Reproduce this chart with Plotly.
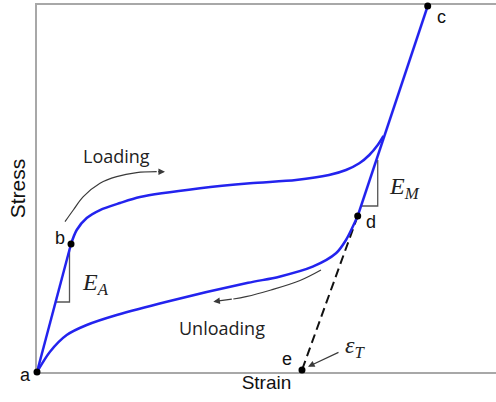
import plotly.graph_objects as go

# ---- data (normalized strain / stress units) ----
point_labels = ["a", "b", "c", "d", "e"]
point_strain = [0.0, 0.0741, 0.8512, 0.6987, 0.5773]
point_stress = [0.0, 0.3488, 0.9973, 0.4251, 0.0054]

# elastic austenite segment a -> b
elastic_a_strain = [0.0, 0.0741]
elastic_a_stress = [0.0, 0.3488]

# elastic martensite segment c -> d
elastic_m_strain = [0.8512, 0.6987]
elastic_m_stress = [0.9973, 0.4251]

# loading plateau b -> join with martensite line
load_strain = [0.0741, 0.0865, 0.1083, 0.1373, 0.1808, 0.2244, 0.3551, 0.4641,
               0.5643, 0.6362, 0.6732, 0.7022, 0.7240, 0.7423, 0.7549]
load_stress = [0.3488, 0.3869, 0.4196, 0.4414, 0.4605, 0.4768, 0.5005, 0.5142,
               0.5232, 0.5368, 0.5504, 0.5687, 0.5913, 0.6185, 0.6431]

# unloading curve d -> a
unload_strain = [0.6987, 0.6732, 0.6514, 0.6006, 0.5279, 0.4600, 0.2826, 0.1736,
                 0.1083, 0.0647, 0.0283, 0.0]
unload_stress = [0.4251, 0.3597, 0.3234, 0.2869, 0.2597, 0.2430, 0.1916, 0.1553,
                 0.1281, 0.1008, 0.0553, 0.0]

# transformation strain (dashed) d -> e
dash_strain = [0.6987, 0.5773]
dash_stress = [0.4251, 0.0054]

# slope triangles
tri_a_strain = [0.0414, 0.0708, 0.0708]
tri_a_stress = [0.1907, 0.1907, 0.3311]
tri_m_strain = [0.7059, 0.7423, 0.7423]
tri_m_stress = [0.4523, 0.4523, 0.5777]

# curved direction arrows
loading_arrow_strain = [0.0610, 0.0791, 0.1009, 0.1373, 0.1736, 0.2172, 0.2608]
loading_arrow_stress = [0.4095, 0.4414, 0.4777, 0.5142, 0.5322, 0.5431, 0.5458]
loading_tip = (0.2789, 0.5458)

unloading_arrow_strain = [0.6187, 0.5730, 0.5098, 0.4553, 0.4277]
unloading_arrow_stress = [0.2779, 0.2493, 0.2234, 0.2052, 0.1989]
unloading_tip = (0.3841, 0.1916)

BLUE = "#2323ee"
GRAY = "#3a3a3a"
SANS = "Liberation Sans, Arial, sans-serif"
SERIF = "Liberation Serif, Times New Roman, serif"

fig = go.Figure()

def line(xs, ys, color, width, dash="solid", shape="linear", smoothing=1.0):
    fig.add_trace(go.Scatter(x=xs, y=ys, mode="lines",
                             line=dict(color=color, width=width, dash=dash, shape=shape,
                                       smoothing=smoothing),
                             cliponaxis=False, hoverinfo="skip", showlegend=False))

line(tri_a_strain, tri_a_stress, "#555555", 1.3)
line(tri_m_strain, tri_m_stress, "#555555", 1.3)
line(dash_strain, dash_stress, "#111111", 2, dash="9px,5px")
line(elastic_a_strain, elastic_a_stress, BLUE, 2.5)
line(elastic_m_strain, elastic_m_stress, BLUE, 2.5)
line(load_strain, load_stress, BLUE, 2.5, shape="spline", smoothing=0.8)
line(unload_strain, unload_stress, BLUE, 2.5, shape="spline", smoothing=0.8)
line(loading_arrow_strain, loading_arrow_stress, GRAY, 1.2, shape="spline")
line(unloading_arrow_strain, unloading_arrow_stress, GRAY, 1.2, shape="spline")

fig.add_trace(go.Scatter(x=point_strain, y=point_stress, mode="markers",
                         marker=dict(color="black", size=7, line=dict(width=0)),
                         cliponaxis=False, hoverinfo="skip", showlegend=False))

anns = []
# arrowheads
for tail_x, tail_y, tip in [(loading_arrow_strain[-1], loading_arrow_stress[-1], loading_tip),
                            (unloading_arrow_strain[-1], unloading_arrow_stress[-1], unloading_tip)]:
    anns.append(dict(x=tip[0], y=tip[1], ax=tail_x, ay=tail_y, xref="x", yref="y",
                     axref="x", ayref="y", text="", showarrow=True, arrowhead=2,
                     arrowsize=1.1, arrowwidth=1.2, arrowcolor=GRAY))
# epsilon_T arrow
anns.append(dict(x=0.5904, y=0.0145, ax=0.6601, ay=0.0553, xref="x", yref="y",
                 axref="x", ayref="y", text="", showarrow=True, arrowhead=2,
                 arrowsize=1.1, arrowwidth=1.2, arrowcolor=GRAY))

label_pos = {"a": (-0.0261, -0.0082), "b": (0.0501, 0.3651), "c": (0.8817, 0.9681),
             "d": (0.7277, 0.4087), "e": (0.5440, 0.0346)}
for lab in point_labels:
    lx, ly = label_pos[lab]
    anns.append(dict(x=lx, y=ly, xref="paper", yref="paper", xanchor="center",
                     yanchor="middle", text=lab, showarrow=False,
                     font=dict(family=SANS, size=18, color="#111111")))

def txt(x, y, text, family, size):
    anns.append(dict(x=x, y=y, xref="x", yref="y", xanchor="center", yanchor="middle",
                     text=text, showarrow=False,
                     font=dict(family=family, size=size, color="#222222")))

txt(0.1736, 0.5886, "Loading", "Open Sans", 18)
txt(0.4020, 0.1199, "Unloading", "Open Sans", 18)
txt(0.1264, 0.2398, "<i>E</i><sub><i>A</i></sub>", SERIF, 24)
txt(0.7996, 0.5014, "<i>E</i><sub><i>M</i></sub>", SERIF, 24)
txt(0.6928, 0.0681, "<i>ε</i><sub><i>T</i></sub>", SERIF, 24)

fig.update_layout(
    width=496, height=402,
    margin=dict(l=37, r=0, t=5, b=30),
    paper_bgcolor="white", plot_bgcolor="white",
    annotations=anns,
    xaxis=dict(range=[0, 1], showline=True, linecolor="#a8a8a8", linewidth=1.5, mirror=True,
               showgrid=False, zeroline=False, showticklabels=False, ticks="",
               layer="below traces",
               title=dict(text="Strain", standoff=3,
                          font=dict(family=SANS, size=19, color="#111111"))),
    yaxis=dict(range=[0, 1], showline=True, linecolor="#a8a8a8", linewidth=1.5, mirror=False,
               showgrid=False, zeroline=False, showticklabels=False, ticks="",
               layer="below traces",
               title=dict(text="Stress", standoff=4,
                          font=dict(family=SANS, size=21, color="#111111"))),
)

fig.write_html("out.html", config={"displayModeBar": False})
